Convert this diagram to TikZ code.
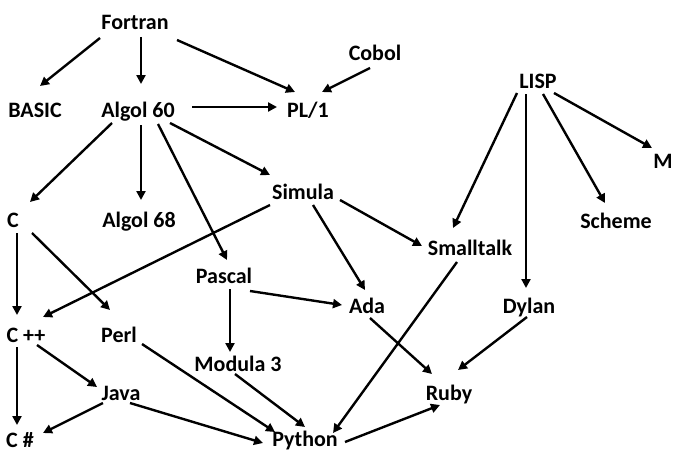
\documentclass[tikz,border=0pt]{standalone}
\usepackage{fontspec}
\setmainfont{Carlito}
\usetikzlibrary{arrows.meta}
\tikzset{
  lang/.style={anchor=base, inner sep=0pt, font=\fontsize{22}{26}\selectfont\bfseries},
  arr/.style={line width=2.4pt, -{Triangle[length=9pt,width=9pt]}}
}
\newcommand\edgeto[4]{\draw[arr] ([shift={(#2)}]#1.base) -- ([shift={(#4)}]#3.base);}
\begin{document}
\begin{tikzpicture}[x=1pt,y=-1pt]
\useasboundingbox (0,0) rectangle (674,452);
\node[lang] (fortran) at (135,30) {Fortran};
\node[lang] (basic) at (35,117) {BASIC};
\node[lang] (algolsixty) at (138,117) {Algol 60};
\node[lang] (plone) at (308,117) {PL/1};
\node[lang] (cobol) at (375,60) {Cobol};
\node[lang] (lisp) at (538,88) {LISP};
\node[lang] (ml) at (663,168) {M};
\node[lang] (c) at (13,227) {C};
\node[lang] (algolsixtyeight) at (139,227) {Algol 68};
\node[lang] (simula) at (303,199) {Simula};
\node[lang] (scheme) at (616,228) {Scheme};
\node[lang] (smalltalk) at (470,255) {Smalltalk};
\node[lang] (pascal) at (224,283) {Pascal};
\node[lang] (ada) at (367,313) {Ada};
\node[lang] (dylan) at (529,313) {Dylan};
\node[lang] (cpp) at (26,342) {C ++};
\node[lang] (perl) at (119,342) {Perl};
\node[lang] (modula) at (238,371) {Modula 3};
\node[lang] (java) at (121,400) {Java};
\node[lang] (ruby) at (449,400) {Ruby};
\node[lang] (csharp) at (20,447) {C \#};
\node[lang] (python) at (305,446) {Python};

\edgeto{fortran}{-35,8}{basic}{5,-31}
\edgeto{fortran}{6,7}{algolsixty}{3,-33}
\edgeto{fortran}{42,10}{plone}{-13,-25}
\edgeto{cobol}{-5,8}{plone}{14,-25}
\edgeto{algolsixty}{54,-10}{plone}{-31,-10}
\edgeto{algolsixty}{-26,6}{c}{17,-25}
\edgeto{algolsixty}{3,8}{algolsixtyeight}{2,-27}
\edgeto{algolsixty}{20,7}{pascal}{3,-23}
\edgeto{algolsixty}{32,6}{simula}{-33,-24}
\edgeto{simula}{-33,6}{cpp}{17,-25}
\edgeto{simula}{37,1}{smalltalk}{-48,-9}
\edgeto{simula}{10,6}{ada}{-2,-23}
\edgeto{lisp}{-21,5}{smalltalk}{-17,-27}
\edgeto{lisp}{-12,6}{dylan}{-3,-25}
\edgeto{lisp}{5,6}{scheme}{-11,-25}
\edgeto{lisp}{16,5}{ml}{-11,-20}
\edgeto{c}{4,6}{cpp}{-9,-27}
\edgeto{c}{19,6}{perl}{-9,-32}
\edgeto{pascal}{26,8}{ada}{-25,-8}
\edgeto{pascal}{6,6}{modula}{-8,-19}
\edgeto{cpp}{-9,5}{csharp}{-3,-22}
\edgeto{cpp}{11,3}{java}{-24,-13}
\edgeto{perl}{23,2}{python}{-30,-14}
\edgeto{modula}{-3,3}{python}{0,-19}
\edgeto{java}{-18,3}{csharp}{23,-14}
\edgeto{java}{9,3}{python}{-42,-3}
\edgeto{smalltalk}{-13,7}{python}{28,-13}
\edgeto{ada}{3,5}{ruby}{-17,-26}
\edgeto{dylan}{-2,4}{ruby}{9,-30}
\edgeto{python}{40,-4}{ruby}{-9,5}
\end{tikzpicture}
\end{document}
